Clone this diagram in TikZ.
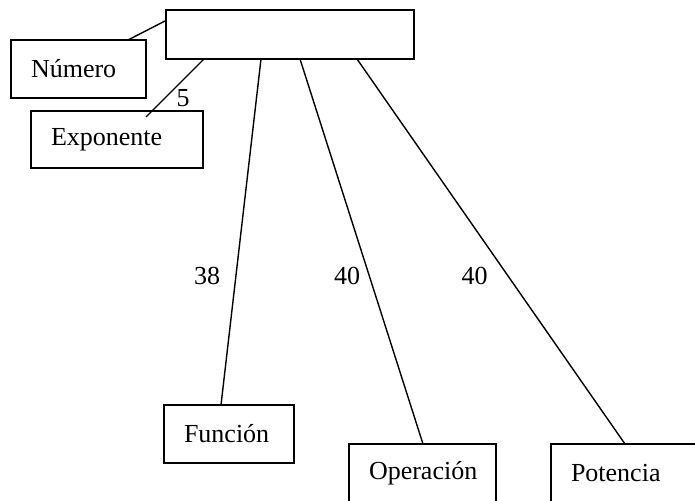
\documentclass[tikz,border=0pt]{standalone}
\usepackage{fontspec}
\setmainfont{Liberation Serif}
\begin{document}
\begin{tikzpicture}[x=1pt,y=-1pt,line width=1.4pt,
  box/.style={draw,rectangle,inner xsep=20pt,inner ysep=0pt,align=left,font=\fontsize{26}{30}\selectfont},
  lbl/.style={font=\fontsize{26}{30}\selectfont,inner sep=0pt}]
\useasboundingbox (0,0) rectangle (695,500);
\node[box,minimum width=248pt,minimum height=49pt] (top) at (290,34.5) {};
\node[box,text width=95pt,minimum height=58pt] (num) at (78.5,69) {Número};
\node[box,text width=132pt,minimum height=57pt] (exp) at (117,139.5) {Exponente};
\node[box,text width=90pt,minimum height=58pt] (fun) at (229,434) {Función};
\node[box,text width=107pt,minimum height=58pt] (ope) at (422.5,473) {Operación};
\node[box,text width=200pt,minimum height=58pt] (pot) at (671,473) {Potencia};
\coordinate (t0) at (165,21);
\coordinate (n0) at (128,40);
\coordinate (t1) at (204,59);
\coordinate (e1) at (146,117);
\coordinate (t2) at (261,59);
\coordinate (f2) at (221,405);
\coordinate (t3) at (300,59);
\coordinate (o3) at (423,444);
\coordinate (t4) at (357,59);
\coordinate (p4) at (625,444);
\draw (t0) -- (n0);
\draw (t1) -- (e1);
\draw (t2) -- (f2);
\draw (t3) -- (o3);
\draw (t4) -- (p4);
\node[lbl] (l5) at (183,98) {5};
\node[lbl] (l38) at (207,276) {38};
\node[lbl] (l40a) at (347,276) {40};
\node[lbl] (l40b) at (474.5,276) {40};
\end{tikzpicture}
\end{document}
